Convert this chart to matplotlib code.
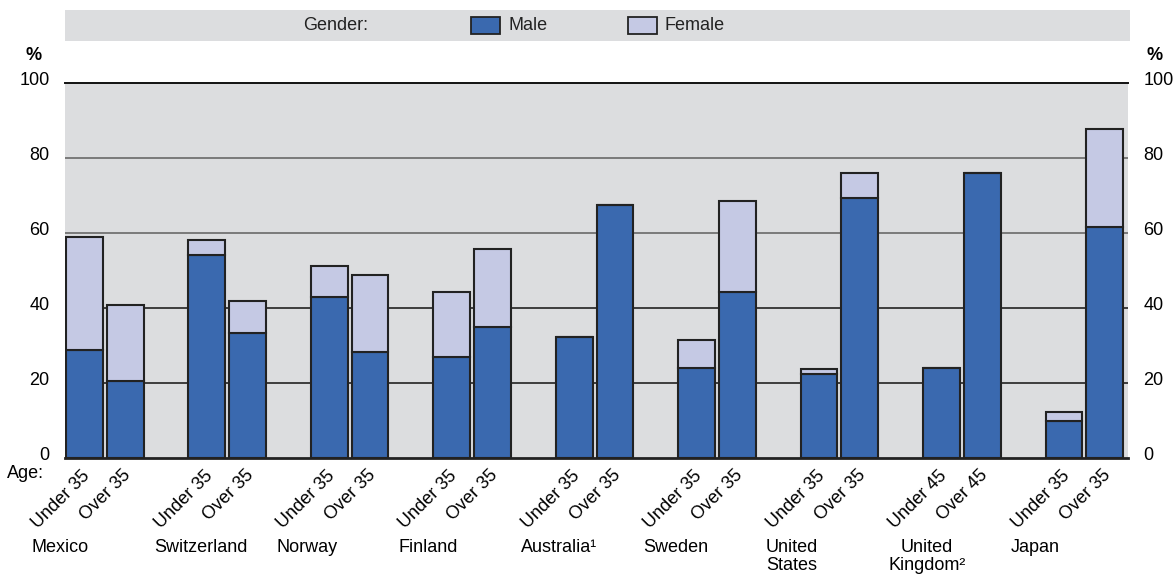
import matplotlib
matplotlib.use('Agg')
import matplotlib.pyplot as plt
import matplotlib.transforms as mtransforms
from matplotlib.patches import Rectangle
import numpy as np

plt.rcParams['font.family'] = ['Liberation Sans', 'DejaVu Sans']

countries = ['Mexico', 'Switzerland', 'Norway', 'Finland', 'Australia\u00b9',
             'Sweden', 'United\nStates', 'United\nKingdom\u00b2', 'Japan']
age_young = ['Under 35'] * 7 + ['Under 45', 'Under 35']
age_old = ['Over 35'] * 7 + ['Over 45', 'Over 35']

# % shares, male part and total (male + female)
male_young = [28.8, 54.1, 42.9, 26.9, 32.3, 24.0, 22.4, 24.0, 9.9]
total_young = [58.9, 58.1, 51.2, 44.3, 32.3, 31.5, 23.7, 24.0, 12.3]
male_old = [20.5, 33.3, 28.3, 34.9, 67.5, 44.3, 69.3, 76.0, 61.6]
total_old = [40.8, 41.9, 48.8, 55.7, 67.5, 68.5, 76.0, 76.0, 87.7]

male_col = '#3a69af'
fem_col = '#c5c9e4'
bg_col = '#dcdddf'
edge = '#222222'
fs = 13

fig = plt.figure(figsize=(11.73, 5.76), dpi=100)
ax = fig.add_axes([65/1173, 1-458/576, (1128-65)/1173, (458-83)/576])
ax.set_facecolor(bg_col)

n = len(countries)
x_young = np.arange(n) * 3.0
x_old = x_young + 1
w = 0.9

fem_young = np.array(total_young) - np.array(male_young)
fem_old = np.array(total_old) - np.array(male_old)

kw = dict(width=w, edgecolor=edge, linewidth=1.5, zorder=3)
ax.bar(x_young, male_young, color=male_col, **kw)
ax.bar(x_young, fem_young, bottom=male_young, color=fem_col, **kw)
ax.bar(x_old, male_old, color=male_col, **kw)
ax.bar(x_old, fem_old, bottom=male_old, color=fem_col, **kw)

ax.set_xlim(-0.475, 25.57)
ax.set_ylim(0, 100)
ax.set_xticks([])
ax.set_yticks([0, 20, 40, 60, 80, 100])
for y in [20, 40]:
    ax.axhline(y, color='#222222', lw=1.2, zorder=1)
for y in [60, 80]:
    ax.axhline(y, color='#7a7a7a', lw=1.4, zorder=1)
for s in ['left', 'right']:
    ax.spines[s].set_visible(False)
ax.spines['top'].set_color('#111111')
ax.spines['top'].set_linewidth(1.4)
ax.spines['bottom'].set_color('#222222')
ax.spines['bottom'].set_linewidth(2)
ax.spines['bottom'].set_zorder(4)

ax.tick_params(axis='y', length=0, labelsize=fs, labelright=True, pad=11)
shift = mtransforms.ScaledTranslation(0, 0.045, fig.dpi_scale_trans)
for lab in ax.get_yticklabels(which='both'):
    lab.set_transform(lab.get_transform() + shift)

# age labels, rotated under each bar
trans = ax.get_xaxis_transform() + mtransforms.ScaledTranslation(-0.03, -0.09, fig.dpi_scale_trans)
for i in range(n):
    ax.text(x_young[i], 0, age_young[i], transform=trans, rotation=45,
            rotation_mode='anchor', ha='right', va='top', fontsize=fs)
    ax.text(x_old[i], 0, age_old[i], transform=trans, rotation=45,
            rotation_mode='anchor', ha='right', va='top', fontsize=fs)

# country names
ctrans = ax.get_xaxis_transform() + mtransforms.ScaledTranslation(0, -0.81, fig.dpi_scale_trans)
for i in range(n):
    ax.text(x_young[i] - 0.45 - 0.85, 0, countries[i], transform=ctrans,
            ha='left', va='top', fontsize=fs, multialignment='center',
            linespacing=1.1)

fig.text(7/1173, 1-474/576, 'Age:', fontsize=fs, ha='left', va='center')
fig.text(34/1173, 1-55/576, '%', fontsize=fs, ha='center', va='center', weight='bold')
fig.text(1155/1173, 1-55/576, '%', fontsize=fs, ha='center', va='center', weight='bold')

# legend strip
fig.patches.append(Rectangle((65/1173, 1-41/576), (1130-65)/1173, 31/576,
                             transform=fig.transFigure, facecolor=bg_col,
                             edgecolor='none', zorder=0))
fig.text(303/1173, 1-26/576, 'Gender:', fontsize=fs, ha='left', va='center', color='#222222')
for px, col, name in [(471, male_col, 'Male'), (628, fem_col, 'Female')]:
    fig.patches.append(Rectangle((px/1173, 1-34/576), 29/1173, 17/576,
                                 transform=fig.transFigure, facecolor=col,
                                 edgecolor=edge, linewidth=1.3))
    fig.text((px+37)/1173, 1-26/576, name, fontsize=fs, ha='left', va='center', color='#222222')

fig.savefig('out.png', dpi=100)
